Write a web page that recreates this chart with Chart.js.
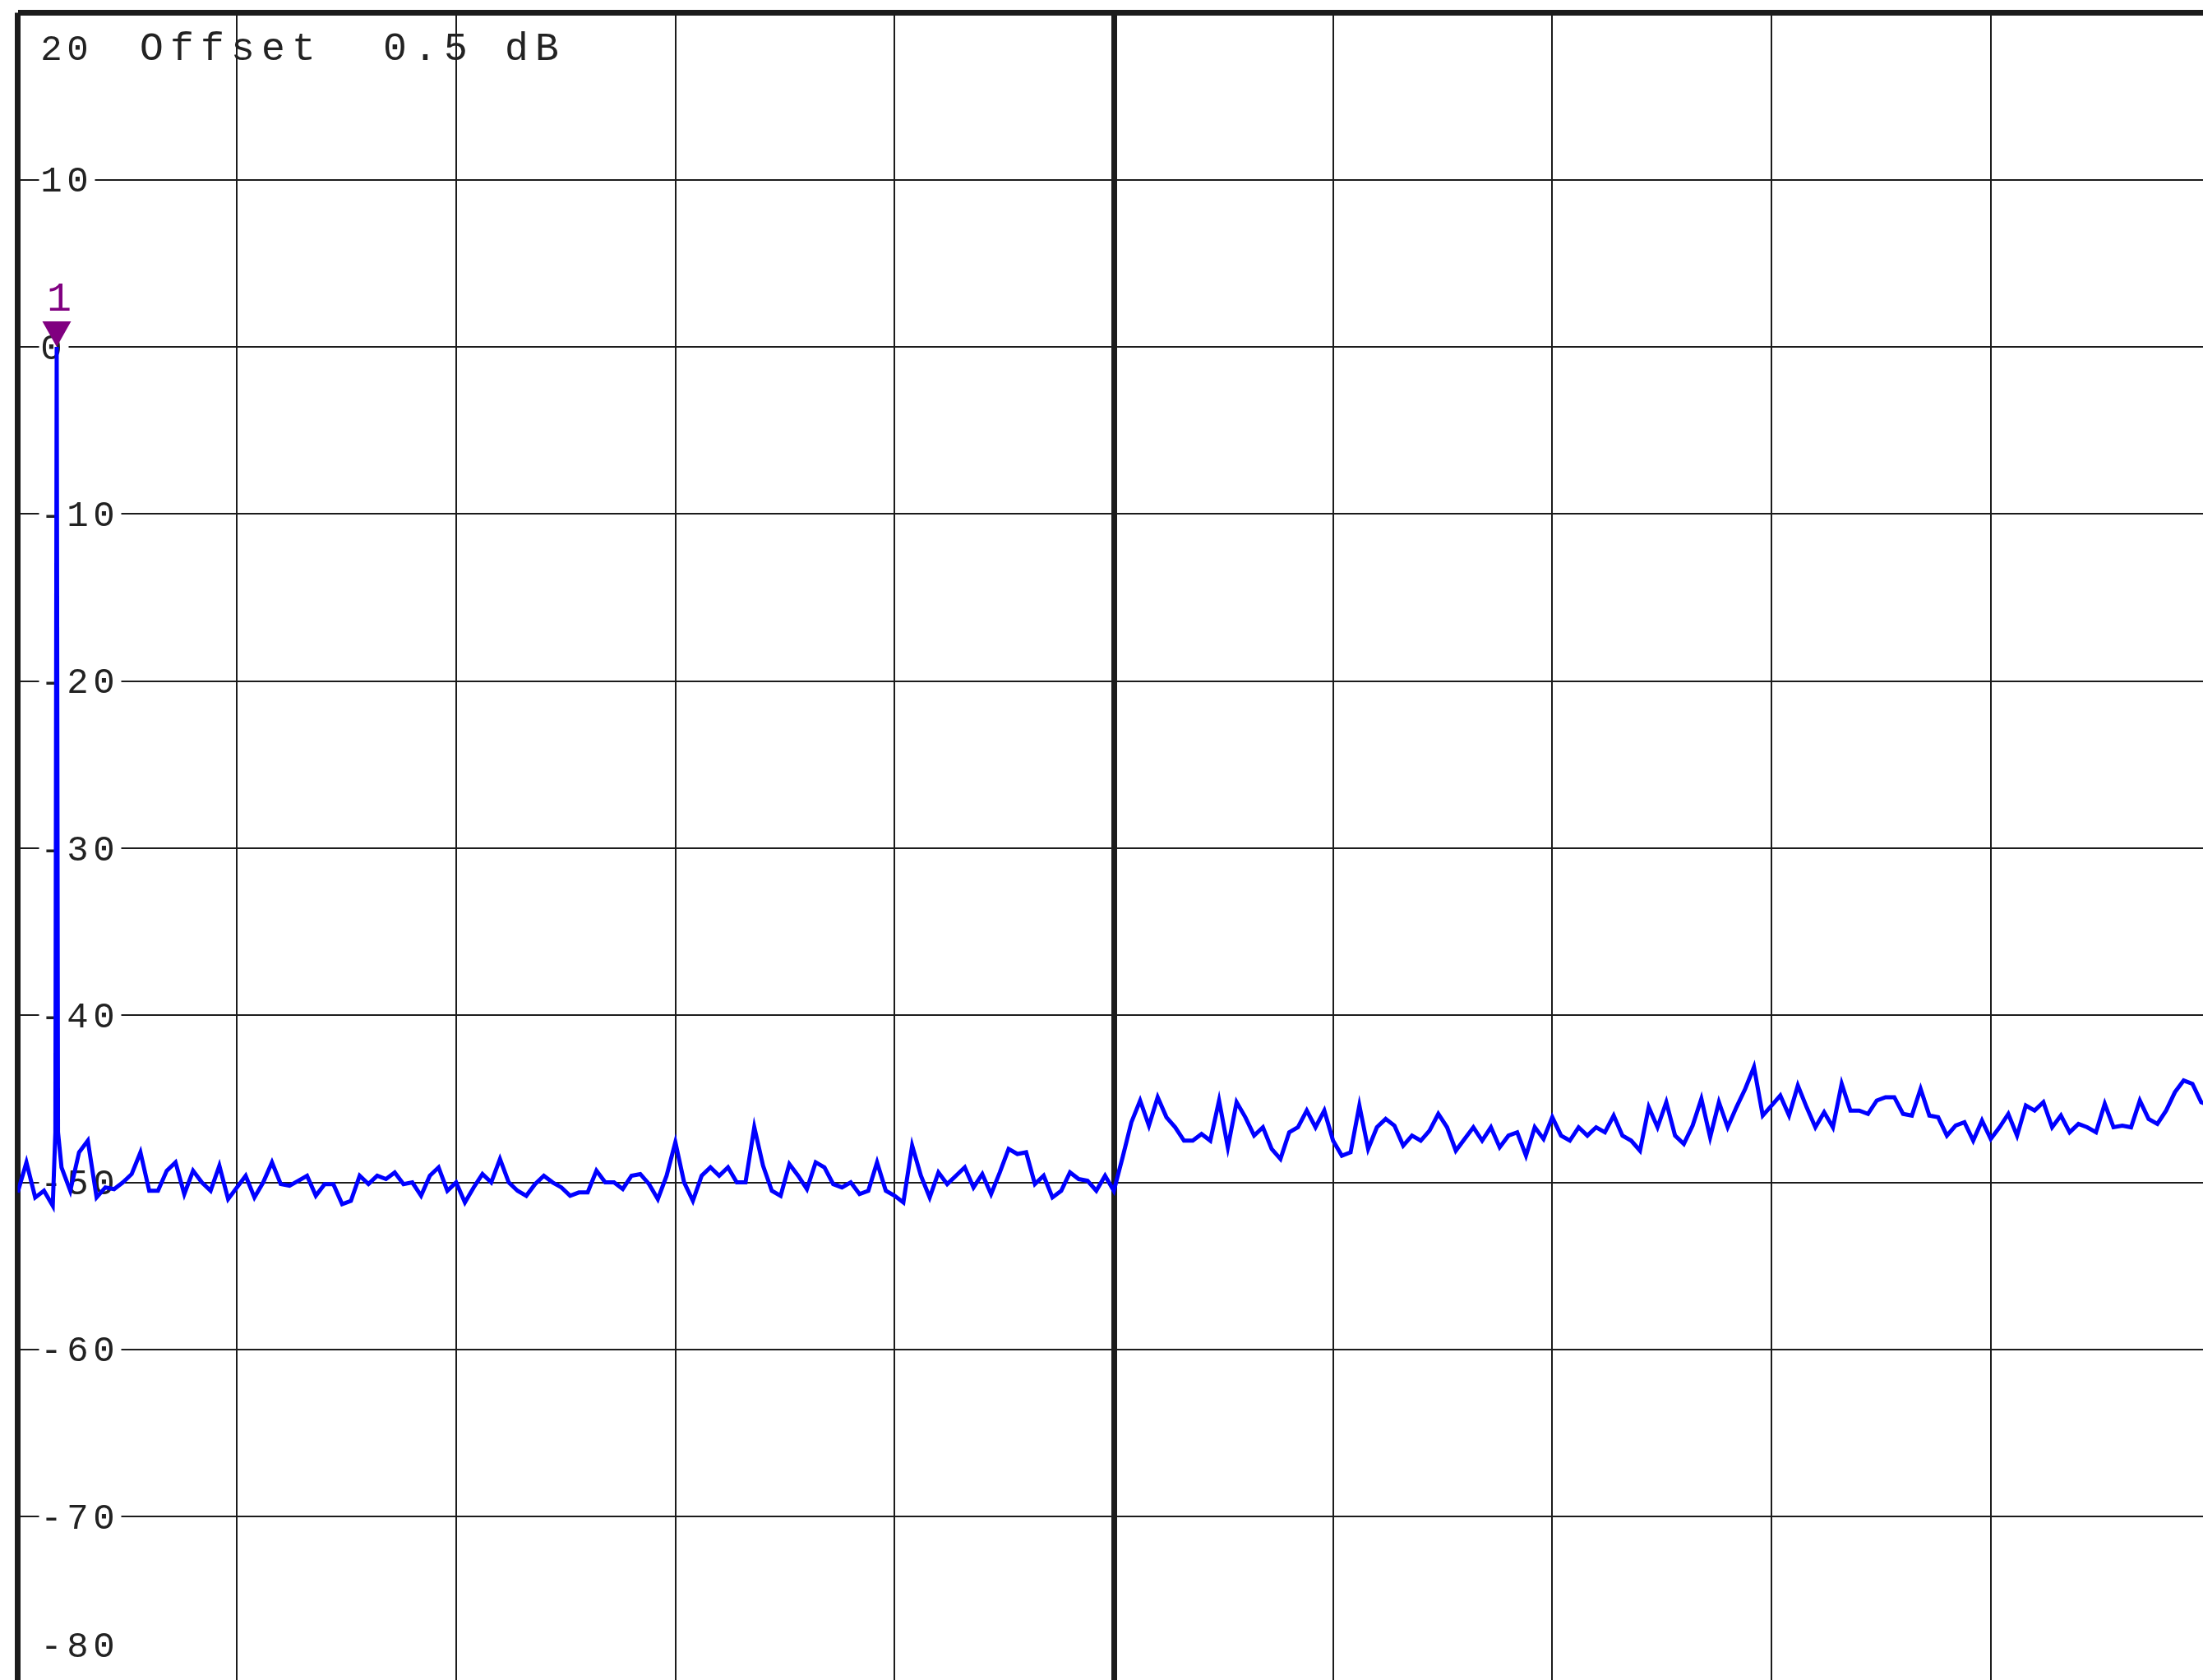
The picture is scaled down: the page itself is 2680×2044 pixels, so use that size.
<!DOCTYPE html>
<html>
<head>
<meta charset="utf-8">
<script src="https://cdn.jsdelivr.net/npm/chart.js@4.4.1/dist/chart.umd.min.js"></script>
<style>
  html, body { margin: 0; padding: 0; background: #fff; overflow: hidden; }
  #wrap { width: 2680px; height: 2044px; overflow: hidden; }
</style>
</head>
<body>
<div id="wrap"><canvas id="spectrum" width="2700" height="2060"></canvas></div>
<script>
// level axis: ref level 20 dB, 10 dB / div
let levelTicks = [20, 10, 0, -10, -20, -30, -40, -50, -60, -70, -80];

// sweep: 25 points per division, 10 divisions (0..250)
let traceDb = [
  -50.6, -48.8, -50.9, -50.5, -51.4, -49.1, -50.5, -48.2, -47.5, -50.9,
  -50.3, -50.4, -50.0, -49.5, -48.2, -50.5, -50.5, -49.3, -48.8, -50.7,
  -49.3, -50.0, -50.5, -49.0, -51.0, -50.3, -49.6, -50.9, -50.0, -48.8,
  -50.1, -50.2, -49.9, -49.6, -50.8, -50.1, -50.1, -51.3, -51.1, -49.6,
  -50.1, -49.6, -49.8, -49.4, -50.1, -50.0, -50.8, -49.6, -49.1, -50.5,
  -50.0, -51.2, -50.3, -49.5, -50.0, -48.6, -50.0, -50.5, -50.8, -50.1,
  -49.6, -50.0, -50.3, -50.8, -50.6, -50.6, -49.3, -50.0, -50.0, -50.4,
  -49.6, -49.5, -50.1, -51.0, -49.6, -47.6, -50.0, -51.1, -49.6, -49.1,
  -49.6, -49.1, -50.0, -50.0, -46.7, -49.0, -50.5, -50.8, -48.9, -49.6,
  -50.4, -48.8, -49.1, -50.1, -50.3, -50.0, -50.7, -50.5, -48.8, -50.5,
  -50.8, -51.2, -47.8, -49.6, -50.9, -49.4, -50.1, -49.6, -49.1, -50.3,
  -49.5, -50.7, -49.4, -48.0, -48.3, -48.2, -50.1, -49.6, -50.9, -50.5,
  -49.4, -49.8, -49.9, -50.5, -49.6, -50.5, -48.5, -46.4, -45.1, -46.6,
  -44.9, -46.1, -46.7, -47.5, -47.5, -47.1, -47.5, -45.1, -47.9, -45.2,
  -46.1, -47.2, -46.7, -48.0, -48.6, -47.0, -46.7, -45.7, -46.7, -45.7,
  -47.5, -48.4, -48.2, -45.4, -48.0, -46.7, -46.2, -46.6, -47.8, -47.2,
  -47.5, -46.9, -45.9, -46.7, -48.1, -47.4, -46.7, -47.5, -46.7, -47.9,
  -47.2, -47.0, -48.4, -46.7, -47.4, -46.1, -47.2, -47.5, -46.7, -47.2,
  -46.7, -47.0, -46.0, -47.2, -47.5, -48.1, -45.5, -46.7, -45.2, -47.2,
  -47.7, -46.6, -45.0, -47.3, -45.2, -46.7, -45.5, -44.4, -43.1, -46.0,
  -45.4, -44.8, -46.0, -44.2, -45.5, -46.7, -45.8, -46.7, -44.1, -45.7,
  -45.7, -45.9, -45.1, -44.9, -44.9, -45.9, -46.0, -44.4, -46.0, -46.1,
  -47.2, -46.6, -46.4, -47.5, -46.3, -47.4, -46.7, -45.9, -47.2, -45.4,
  -45.7, -45.2, -46.7, -46.0, -47.0, -46.5, -46.7, -47.0, -45.3, -46.7,
  -46.6, -46.7, -45.1, -46.2, -46.5, -45.7, -44.6, -43.9, -44.1, -45.2,
  -45.4
];

// carrier line (sweep position, dB)
let carrierX = [4.3, 4.45, 4.6];
let carrierDb = [-47, 0, -47];

// marker 1 sits on the carrier peak
let markerX = [4.45];
let markerDb = [0];
let markerName = ["1"];

let offsetText = "Offset  0.5 dB";

// build the trace points
let tracePoints = traceDb.map((v, i) => ({ x: i, y: v }));
carrierX.forEach((x, i) => tracePoints.push({ x: x, y: carrierDb[i] }));
tracePoints.sort((a, b) => a.x - b.x);

let gridColor = "#1c1c1c";
let monoFamily = "'Liberation Mono', 'DejaVu Sans Mono', monospace";

// draws text one cell at a time, fixed advance
function monoText(ctx, text, x, baseline, advance) {
  for (let k = 0; k < text.length; k++) {
    ctx.fillText(text[k], x + advance * k + advance / 2, baseline);
  }
}

let screenText = {
  id: "screenText",
  beforeDatasetsDraw(chart) {
    let ctx = chart.ctx;
    let y = chart.scales.y;
    let area = chart.chartArea;
    let x0 = area.left + 25;
    ctx.save();
    ctx.textAlign = "center";
    ctx.textBaseline = "alphabetic";
    ctx.font = "44px " + monoFamily;
    levelTicks.forEach((v) => {
      let cy = y.getPixelForValue(v);
      if (v === y.max) cy = area.top + 42.5;
      if (v === y.min) cy = area.bottom - 47.5;
      let txt = String(v);
      ctx.fillStyle = "#fff";
      ctx.fillRect(x0 + 1, cy - 17, txt.length * 32 + 4, 34);
      ctx.fillStyle = "#222";
      monoText(ctx, txt, x0, cy + 14.5, 32);
    });
    ctx.font = "48px " + monoFamily;
    monoText(ctx, offsetText, 166, 73, 37);
    ctx.restore();
  },
  afterDatasetsDraw(chart) {
    let ctx = chart.ctx;
    let xs = chart.scales.x;
    let ys = chart.scales.y;
    ctx.save();
    markerX.forEach((mx, i) => {
      let px = xs.getPixelForValue(mx);
      let py = ys.getPixelForValue(markerDb[i]);
      ctx.fillStyle = "#800080";
      ctx.beginPath();
      ctx.moveTo(px - 17.5, py - 31);
      ctx.lineTo(px + 17.5, py - 31);
      ctx.lineTo(px, py);
      ctx.closePath();
      ctx.fill();
      ctx.font = "50px " + monoFamily;
      ctx.textAlign = "center";
      ctx.fillText(markerName[i], px + 3, py - 44);
    });
    ctx.restore();
  },
};

let spectrum = document.getElementById("spectrum");
new Chart(spectrum, {
  type: "line",
  plugins: [screenText],
  options: {
    responsive: false,
    animation: false,
    layout: {
      padding: { left: 21.5, top: 15.5, right: 11.5, bottom: 11.5 },
    },
    plugins: {
      legend: { display: false },
      tooltip: { enabled: false },
    },
    scales: {
      x: {
        type: "linear",
        min: 0,
        max: 250,
        ticks: { stepSize: 25, display: false },
        border: { display: false },
        grid: {
          color: gridColor,
          drawTicks: false,
          lineWidth: (c) => (c.tick && (c.tick.value === 0 || c.tick.value === 125) ? 7 : 2),
        },
      },
      y: {
        type: "linear",
        min: -80,
        max: 20,
        ticks: { stepSize: 10, display: false },
        border: { display: false },
        grid: {
          color: gridColor,
          drawTicks: false,
          lineWidth: (c) => (c.tick && c.tick.value === 20 ? 7 : 2),
        },
      },
    },
  },
  data: {
    datasets: [
      {
        label: "Trace 1",
        data: tracePoints,
        borderColor: "#0000ff",
        borderWidth: 5,
        pointRadius: 0,
        tension: 0,
        fill: false,
      },
    ],
  },
});
</script>
</body>
</html>
